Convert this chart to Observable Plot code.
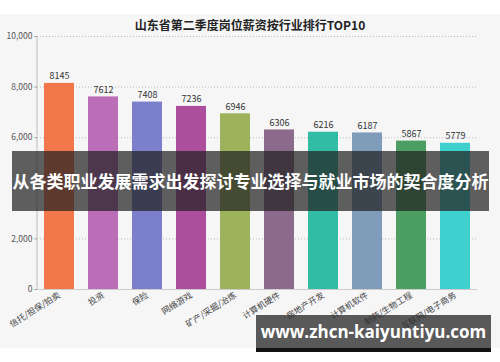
<!DOCTYPE html>
<html>
<head>
<meta charset="utf-8">
<script src="https://cdn.jsdelivr.net/npm/d3@7"></script>
<script src="https://cdn.jsdelivr.net/npm/@observablehq/plot@0.6"></script>
<style>
  html, body { margin: 0; padding: 0; background: #ffffff; }
  #wrap { position: relative; width: 500px; height: 362px; overflow: hidden; background: #ffffff;
          font-family: "Noto Sans CJK SC", "Noto Sans", sans-serif; }
  #panel { position: absolute; left: 0; top: 14px; width: 500px; height: 334px; background: #f6f6f7; }
  #title { position: absolute; left: 0; top: 17px; width: 500px; text-align: center;
           font-size: 12px; font-weight: bold; color: #222; line-height: 16px; }
  #chart { position: absolute; left: 0; top: 14px; }
  #band { position: absolute; left: 12px; top: 151px; width: 477px; height: 60px;
          background: rgba(35,35,35,0.72); color: #fff; font-weight: bold; font-size: 17px;
          line-height: 60px; text-align: center; white-space: nowrap; }
  #url { position: absolute; left: 256px; top: 315px; width: 235px; height: 33px;
         background: rgba(45,45,45,0.78); color: #fff; font-weight: bold; font-size: 17px;
         font-family: "Open Sans", "DejaVu Sans", sans-serif;
         line-height: 33px; text-align: center; white-space: nowrap; }
  #urlbar { position: absolute; left: 256px; top: 348px; width: 235px; height: 4px; background: #111; }
</style>
</head>
<body>
<div id="wrap">
  <div id="panel"></div>
  <div id="title"></div>
  <div id="chart"></div>
  <div id="band"></div>
  <div id="url"></div>
  <div id="urlbar"></div>
</div>
<script>
const titleText = "山东省第二季度岗位薪资按行业排行TOP10";
const bannerText = "从各类职业发展需求出发探讨专业选择与就业市场的契合度分析";
const urlText = "www.zhcn-kaiyuntiyu.com";
const categories = ["信托/担保/拍卖", "投资", "保险", "网络游戏", "矿产/采掘/冶炼", "计算机硬件", "房地产开发", "计算机软件", "制药/生物工程", "互联网/电子商务"];
const values = [8145, 7612, 7408, 7236, 6946, 6306, 6216, 6187, 5867, 5779];
const colors = ["#f2774a", "#bc6db8", "#7b7fcc", "#ad4e9d", "#9db35b", "#8c6a8c", "#31bda5", "#7f9cba", "#4c9e62", "#3dd0ce"];
const gridTicks = [2000, 4000, 6000, 8000, 10000];
const labelTicks = [0, 2000, 6000, 8000, 10000];

document.getElementById("title").textContent = titleText;
document.getElementById("band").textContent = bannerText;
document.getElementById("url").textContent = urlText;

const data = categories.map((c, i) => ({cat: c, value: values[i]}));
const fmt = d3.format(",");

const leftLine = (index, scales, values, dim) => {
  const l = d3.create("svg:line")
    .attr("x1", dim.marginLeft).attr("x2", dim.marginLeft)
    .attr("y1", scales.y(10000)).attr("y2", scales.y(0))
    .attr("stroke", "#bbb");
  return l.node();
};

const chart = Plot.plot({
  width: 500,
  height: 334,
  marginTop: 22,
  marginBottom: 59,
  marginLeft: 37,
  marginRight: 23,
  style: {background: "transparent", fontFamily: "'Noto Sans CJK SC', 'Noto Sans', sans-serif", fontSize: "8px", color: "#444"},
  x: {domain: categories, paddingInner: 0.32, paddingOuter: 0.16, label: null, axis: null},
  y: {domain: [0, 10000], label: null, axis: null},
  color: {domain: categories, range: colors},
  marks: [
    Plot.gridY(gridTicks, {stroke: "#bbb", strokeOpacity: 1, strokeDasharray: "1,2"}),
    Plot.barY(data, {x: "cat", y: "value", fill: "cat"}),
    Plot.text(data, {x: "cat", y: "value", text: d => String(d.value), dy: -4, lineAnchor: "bottom", fontSize: 9, fill: "#333"}),
    Plot.ruleY([0], {stroke: "#ccc"}),
    Plot.axisY(labelTicks, {tickFormat: d => fmt(d), tickSize: 3, tickPadding: 2, stroke: "#aaa", fill: "#555", fontSize: 8.5, label: null}),
    leftLine,
    Plot.axisX({tickRotate: -32, tickSize: 0, tickPadding: 5, fill: "#444", fontSize: 8.5, label: null})
  ]
});
document.getElementById("chart").appendChild(chart);
</script>
</body>
</html>
